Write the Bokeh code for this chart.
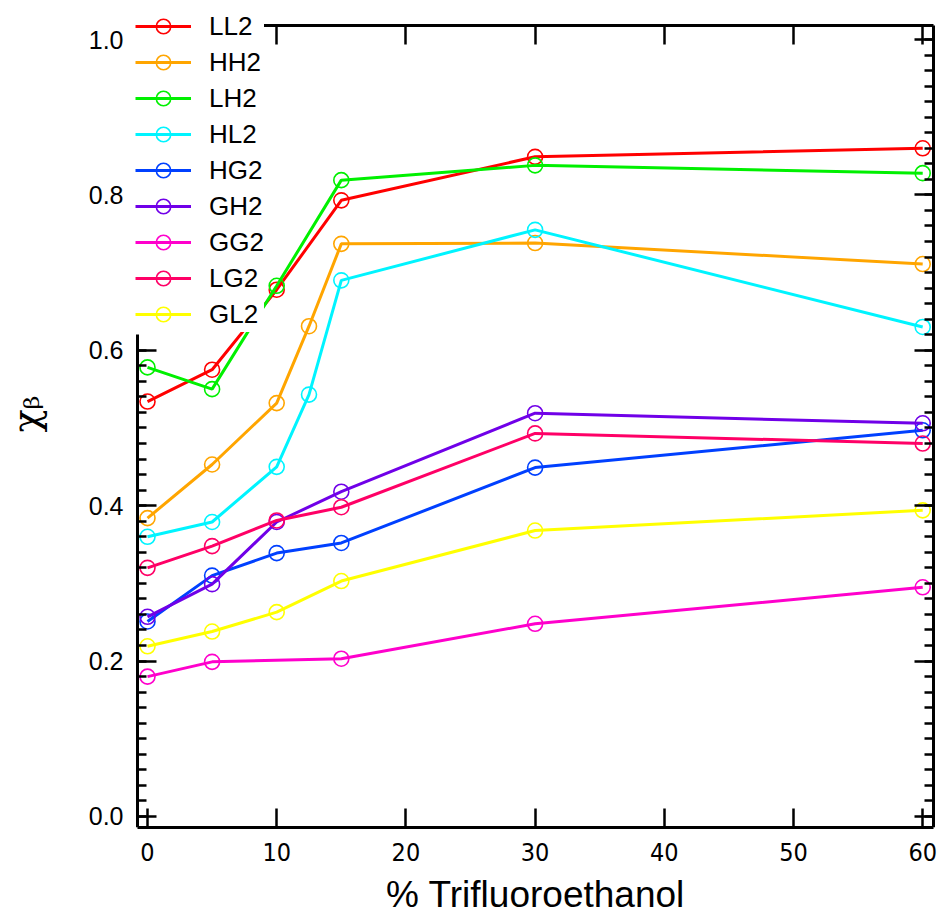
from bokeh.plotting import figure
from bokeh.models import (LinearAxis, SingleIntervalTicker, Range1d, Legend, LegendItem,
                          PrintfTickFormatter)
from bokeh.embed import file_html
from bokeh.resources import INLINE

# ---- data ----
tfe = [0, 5, 10, 15, 30, 60]
tfe_ext = [0, 5, 10, 12.5, 15, 30, 60]
tfe_gg = [0, 5, 15, 30, 60]

LL2 = [0.534, 0.575, 0.678, 0.793, 0.849, 0.860]
HH2 = [0.384, 0.453, 0.532, 0.631, 0.737, 0.738, 0.711]
LH2 = [0.578, 0.550, 0.683, 0.819, 0.838, 0.828]
HL2 = [0.360, 0.379, 0.450, 0.543, 0.690, 0.755, 0.630]
HG2 = [0.251, 0.310, 0.339, 0.352, 0.449, 0.497]
GH2 = [0.257, 0.299, 0.379, 0.418, 0.519, 0.506]
GG2 = [0.180, 0.199, 0.203, 0.248, 0.295]
LG2 = [0.320, 0.348, 0.381, 0.398, 0.493, 0.480]
GL2 = [0.219, 0.238, 0.263, 0.303, 0.368, 0.394]

series = [
    ("LL2", tfe, LL2, "#ff0000"),
    ("HH2", tfe_ext, HH2, "#ffa500"),
    ("LH2", tfe, LH2, "#00f000"),
    ("HL2", tfe_ext, HL2, "#00f4ff"),
    ("HG2", tfe, HG2, "#0040ff"),
    ("GH2", tfe, GH2, "#7000e8"),
    ("GG2", tfe_gg, GG2, "#ff00cc"),
    ("LG2", tfe, LG2, "#ff0066"),
    ("GL2", tfe, GL2, "#ffff00"),
]

x_ticks_interval = 10
y_ticks_interval = 0.2

# box limits (data units) of the drawn frame
X0, X1 = -0.774, 60.836
Y0, Y1 = -0.0142, 1.018

FONT = "'Liberation Sans', Arial, sans-serif"
NARROW = "'Liberation Sans Narrow', 'DejaVu Sans Condensed', 'Liberation Sans', sans-serif"

p = figure(width=942, height=920, output_backend="svg", toolbar_location=None,
           x_range=Range1d(-0.929, 60.99), y_range=Range1d(Y0, 1.0502),
           min_border_left=135, min_border_right=7, min_border_top=0, min_border_bottom=93)
p.outline_line_color = None
p.xgrid.visible = False
p.ygrid.visible = False
p.background_fill_color = "white"
p.border_fill_color = "white"


def style_axis(ax, interval, minor, labels=True):
    ax.ticker = SingleIntervalTicker(interval=interval, num_minor_ticks=minor)
    ax.axis_line_width = 3
    ax.axis_line_color = "black"
    ax.major_tick_in = 19
    ax.major_tick_out = 0
    ax.major_tick_line_width = 2.5
    ax.major_tick_line_color = "black"
    ax.minor_tick_in = 9 if minor else 0
    ax.minor_tick_out = 0
    ax.minor_tick_line_width = 2.5
    ax.minor_tick_line_color = "black" if minor else None
    ax.major_label_text_color = "black"
    if not labels:
        ax.major_label_text_font_size = "0px"
        ax.major_label_text_color = None
        ax.major_label_standoff = 0


# bottom axis
xa = p.xaxis[0]
style_axis(xa, x_ticks_interval, 0)
xa.bounds = (X0, X1)
xa.major_label_text_font = NARROW
xa.major_label_text_font_size = "25px"
xa.major_label_standoff = 15
xa.axis_label = "% Trifluoroethanol"
xa.axis_label_text_font = FONT
xa.axis_label_text_font_size = "37px"
xa.axis_label_text_font_style = "normal"
xa.axis_label_text_color = "black"
xa.axis_label_standoff = 10

# left axis: labels + title only
ya = p.yaxis[0]
style_axis(ya, y_ticks_interval, 10)
ya.axis_line_color = None
ya.major_tick_line_color = None
ya.minor_tick_line_color = None
ya.major_tick_in = 0
ya.minor_tick_in = 0
ya.formatter = PrintfTickFormatter(format="%.1f")
ya.major_label_text_font = FONT
ya.major_label_text_font_size = "25px"
ya.major_label_standoff = 12
ya.axis_label = "χᵦ"
ya.axis_label_text_font = "'DejaVu Serif', serif"
ya.axis_label_text_font_size = "38px"
ya.axis_label_text_font_style = "normal"
ya.axis_label_text_color = "black"
ya.axis_label_standoff = 38

# left axis line + ticks (visible below the legend)
left_line = LinearAxis(fixed_location=X0)
style_axis(left_line, y_ticks_interval, 10, labels=False)
left_line.bounds = (Y0, 0.62)
p.add_layout(left_line, "left")

# top and right frame axes with inward ticks
top = LinearAxis(fixed_location=Y1)
style_axis(top, x_ticks_interval, 0, labels=False)
top.bounds = (X0, X1)
p.add_layout(top, "above")

right = LinearAxis(fixed_location=X1)
style_axis(right, y_ticks_interval, 10, labels=False)
right.bounds = (Y0, Y1)
p.add_layout(right, "right")

items = []
for name, xs, ys, col in series:
    r1 = p.line(xs, ys, line_color=col, line_width=3)
    r2 = p.scatter(xs, ys, marker="circle", size=15, line_color=col, line_width=1.6,
                   fill_color=None)
    items.append(LegendItem(label=name, renderers=[r1, r2]))

legend = Legend(items=items, location=(0, 495), padding=4, spacing=0, margin=0,
                glyph_width=56, glyph_height=36, label_standoff=18,
                label_text_font=FONT, label_text_font_size="26px",
                label_text_color="black",
                background_fill_color="white", background_fill_alpha=1.0,
                border_line_color=None)
p.add_layout(legend)

open("out.html", "w").write(file_html(p, INLINE))
